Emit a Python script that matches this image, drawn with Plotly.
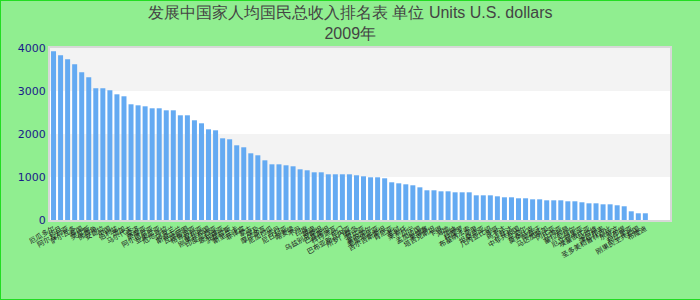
import plotly.graph_objects as go

title_cn = "发展中国家人均国民总收入排名表"
title_unit = "单位"
year_label = "2009年"

countries = [
    "厄瓜多尔", "约旦", "阿尔及利亚", "萨尔瓦多", "泰国", "突尼斯", "佛得角", "安哥拉",
    "中国", "伯利兹", "汤加", "马尔代夫", "斐济", "萨摩亚", "阿尔巴尼亚", "亚美尼亚",
    "危地马拉", "乌克兰", "斯威士兰", "瓦努阿图", "格鲁吉亚", "叙利亚", "刚果共和国",
    "印度尼西亚", "玻利维亚", "洪都拉斯", "斯里兰卡", "菲律宾", "蒙古", "埃及",
    "摩尔多瓦", "尼加拉瓜", "苏丹", "尼日利亚", "喀麦隆", "不丹", "印度", "越南",
    "乌兹别克斯坦", "巴基斯坦", "科特迪瓦", "也门", "巴布亚新几内亚", "所罗门群岛",
    "赞比亚", "塞内加尔", "毛里塔尼亚", "吉尔吉斯斯坦", "肯尼亚", "老挝", "莱索托",
    "贝宁", "孟加拉国", "柬埔寨", "塔吉克斯坦", "乍得", "海地", "加纳", "科摩罗",
    "布基纳法索", "马里", "坦桑尼亚", "几内亚比绍", "多哥", "乌干达", "卢旺达",
    "中非共和国", "尼泊尔", "莫桑比克", "阿富汗", "马达加斯加", "冈比亚", "几内亚",
    "塞拉利昂", "尼日尔", "厄立特里亚", "埃塞俄比亚", "马拉维", "津巴布韦",
    "圣多美和普林西比", "东帝汶", "吉布提", "利比里亚", "刚果民主共和国", "布隆迪",
]

values = [
    3923, 3830, 3737, 3621, 3435, 3319, 3063, 3063, 3016, 2923,
    2877, 2691, 2667, 2644, 2598, 2598, 2551, 2551, 2435, 2435,
    2319, 2249, 2109, 2086, 1900, 1877, 1737, 1691, 1551, 1505,
    1388, 1295, 1295, 1272, 1249, 1179, 1156, 1109, 1109, 1063,
    1063, 1063, 1063, 1040, 1016, 993, 993, 970, 877, 853,
    830, 807, 760, 691, 691, 667, 667, 644, 644, 644,
    574, 574, 574, 551, 528, 528, 505, 505, 481, 481,
    458, 458, 458, 435, 435, 412, 388, 388, 365, 365,
    342, 319, 202, 156, 156,
]

y_ticks = [0, 1000, 2000, 3000, 4000]

fig = go.Figure()
fig.add_trace(go.Bar(
    x=list(range(len(values))),
    y=values,
    marker=dict(color="#64aaf2", line=dict(width=0)),
    hoverinfo="y",
))

# alternating bands
for lo, hi in [(1000, 2000), (3000, 4000)]:
    fig.add_shape(type="rect", xref="paper", yref="y", x0=0, x1=1, y0=lo, y1=hi,
                  fillcolor="#f3f3f3", line=dict(width=0), layer="below")

# outer border
fig.add_shape(type="rect", xref="paper", yref="paper", x0=-50/620, x1=680/620,
              y0=-80/172, y1=1 + 48/172, line=dict(color="#22dd22", width=2),
              fillcolor="rgba(0,0,0,0)")

# title as a two-line annotation placed at the top
fig.add_annotation(
    text=f"{title_cn} {title_unit} Units U.S. dollars<br>{year_label}",
    xref="paper", yref="paper", x=300/620, y=1 + 46/172,
    xanchor="center", yanchor="top", showarrow=False, align="center",
    font=dict(family="Liberation Sans, Arial", size=16, color="#444444"),
)

fig.update_layout(
    width=700, height=300,
    margin=dict(l=50, r=30, t=48, b=80),
    paper_bgcolor="#90ee90",
    plot_bgcolor="white",
    showlegend=False,
    bargap=0.29,
    xaxis=dict(
        range=[-0.5, 87.5],
        tickmode="array",
        tickvals=list(range(len(countries))),
        ticktext=countries,
        tickangle=-30,
        tickfont=dict(size=7, color="#222222", family="Noto Sans CJK SC"),
        showgrid=False, zeroline=False,
        showline=True, mirror=True, linecolor="#d8d8d8", linewidth=2,
        ticks="", automargin=False,
    ),
    yaxis=dict(
        range=[0, 4000],
        tickmode="array",
        tickvals=y_ticks,
        ticktext=[str(v) for v in y_ticks],
        tickfont=dict(size=11, color="#1a1a8a", family="DejaVu Sans"),
        showgrid=False, zeroline=False,
        showline=True, mirror=True, linecolor="#d8d8d8", linewidth=2,
        ticks="", automargin=False,
    ),
)

fig.write_html("out.html")
